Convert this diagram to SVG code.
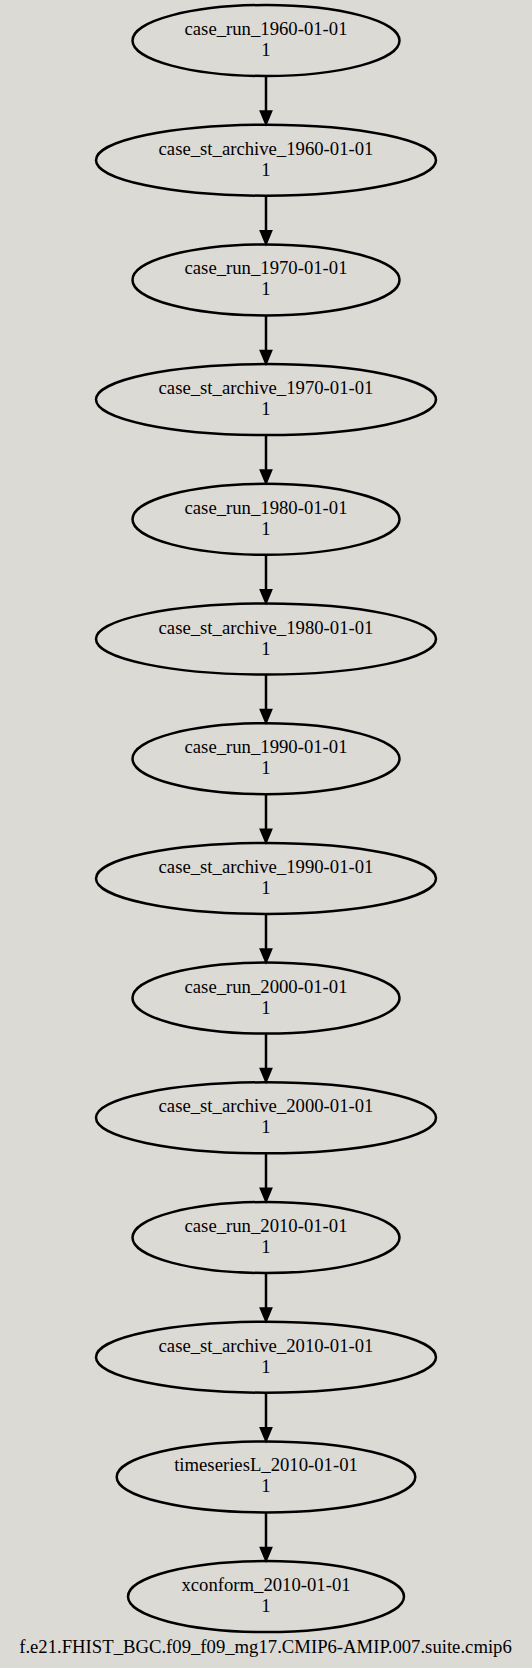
<svg xmlns="http://www.w3.org/2000/svg" width="532" height="1668" viewBox="0 0 532 1668">
<style>
.bg{fill:#dcdad5}
ellipse{fill:none;stroke:#000;stroke-width:2.5}
text{font-family:"Liberation Serif","Times New Roman",serif;font-size:18.7px;fill:#000;text-anchor:middle}
.e line{stroke:#000;stroke-width:2.5}
.e polygon{fill:#000;stroke:#000;stroke-width:2.5}
</style>
<rect class="bg" x="0" y="0" width="532" height="1668"/>
<g id="node0" transform="translate(266,40.5)"><ellipse rx="133.5" ry="35.5"/><text y="-5.5">case_run_1960-01-01</text><text y="15.5">1</text></g>
<g id="node1" transform="translate(266,160.2)"><ellipse rx="170" ry="35.5"/><text y="-5.5">case_st_archive_1960-01-01</text><text y="15.5">1</text></g>
<g id="node2" transform="translate(266,279.9)"><ellipse rx="133.5" ry="35.5"/><text y="-5.5">case_run_1970-01-01</text><text y="15.5">1</text></g>
<g id="node3" transform="translate(266,399.6)"><ellipse rx="170" ry="35.5"/><text y="-5.5">case_st_archive_1970-01-01</text><text y="15.5">1</text></g>
<g id="node4" transform="translate(266,519.3)"><ellipse rx="133.5" ry="35.5"/><text y="-5.5">case_run_1980-01-01</text><text y="15.5">1</text></g>
<g id="node5" transform="translate(266,639)"><ellipse rx="170" ry="35.5"/><text y="-5.5">case_st_archive_1980-01-01</text><text y="15.5">1</text></g>
<g id="node6" transform="translate(266,758.7)"><ellipse rx="133.5" ry="35.5"/><text y="-5.5">case_run_1990-01-01</text><text y="15.5">1</text></g>
<g id="node7" transform="translate(266,878.4)"><ellipse rx="170" ry="35.5"/><text y="-5.5">case_st_archive_1990-01-01</text><text y="15.5">1</text></g>
<g id="node8" transform="translate(266,998.1)"><ellipse rx="133.5" ry="35.5"/><text y="-5.5">case_run_2000-01-01</text><text y="15.5">1</text></g>
<g id="node9" transform="translate(266,1117.8)"><ellipse rx="170" ry="35.5"/><text y="-5.5">case_st_archive_2000-01-01</text><text y="15.5">1</text></g>
<g id="node10" transform="translate(266,1237.5)"><ellipse rx="133.5" ry="35.5"/><text y="-5.5">case_run_2010-01-01</text><text y="15.5">1</text></g>
<g id="node11" transform="translate(266,1357.2)"><ellipse rx="170" ry="35.5"/><text y="-5.5">case_st_archive_2010-01-01</text><text y="15.5">1</text></g>
<g id="node12" transform="translate(266,1476.9)"><ellipse rx="149.3" ry="35.5"/><text y="-5.5">timeseriesL_2010-01-01</text><text y="15.5">1</text></g>
<g id="node13" transform="translate(266,1596.6)"><ellipse rx="138" ry="35.5"/><text y="-5.5">xconform_2010-01-01</text><text y="15.5">1</text></g>
<g id="edges" class="e">
<g transform="translate(266,40.5)"><line x1="0" y1="36" x2="0" y2="71"/><polygon points="-5,71 5,71 0,83"/></g>
<g transform="translate(266,160.2)"><line x1="0" y1="36" x2="0" y2="71"/><polygon points="-5,71 5,71 0,83"/></g>
<g transform="translate(266,279.9)"><line x1="0" y1="36" x2="0" y2="71"/><polygon points="-5,71 5,71 0,83"/></g>
<g transform="translate(266,399.6)"><line x1="0" y1="36" x2="0" y2="71"/><polygon points="-5,71 5,71 0,83"/></g>
<g transform="translate(266,519.3)"><line x1="0" y1="36" x2="0" y2="71"/><polygon points="-5,71 5,71 0,83"/></g>
<g transform="translate(266,639)"><line x1="0" y1="36" x2="0" y2="71"/><polygon points="-5,71 5,71 0,83"/></g>
<g transform="translate(266,758.7)"><line x1="0" y1="36" x2="0" y2="71"/><polygon points="-5,71 5,71 0,83"/></g>
<g transform="translate(266,878.4)"><line x1="0" y1="36" x2="0" y2="71"/><polygon points="-5,71 5,71 0,83"/></g>
<g transform="translate(266,998.1)"><line x1="0" y1="36" x2="0" y2="71"/><polygon points="-5,71 5,71 0,83"/></g>
<g transform="translate(266,1117.8)"><line x1="0" y1="36" x2="0" y2="71"/><polygon points="-5,71 5,71 0,83"/></g>
<g transform="translate(266,1237.5)"><line x1="0" y1="36" x2="0" y2="71"/><polygon points="-5,71 5,71 0,83"/></g>
<g transform="translate(266,1357.2)"><line x1="0" y1="36" x2="0" y2="71"/><polygon points="-5,71 5,71 0,83"/></g>
<g transform="translate(266,1476.9)"><line x1="0" y1="36" x2="0" y2="71"/><polygon points="-5,71 5,71 0,83"/></g>
</g>
<text id="caption" x="265.5" y="1652.7">f.e21.FHIST_BGC.f09_f09_mg17.CMIP6-AMIP.007.suite.cmip6</text>
</svg>
